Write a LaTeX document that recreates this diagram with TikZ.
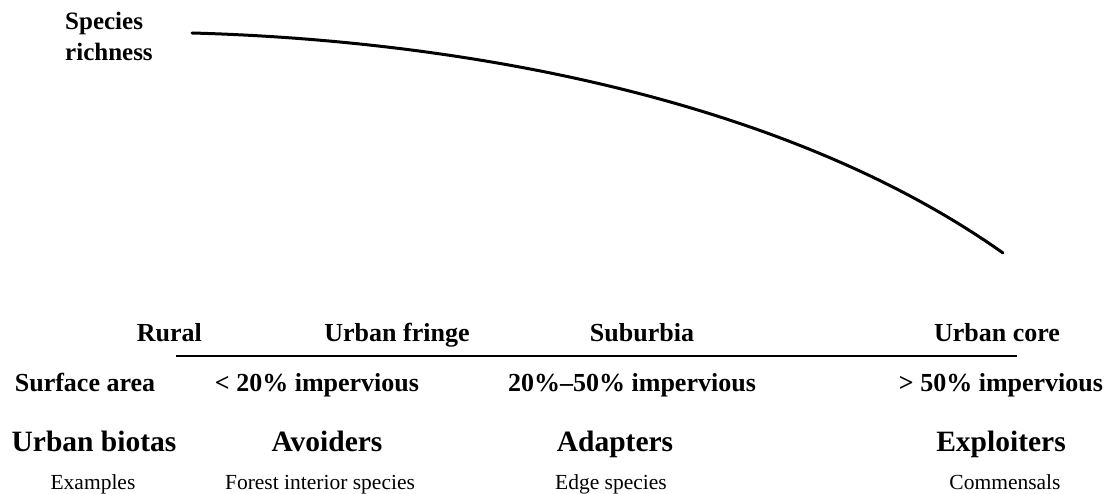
\documentclass[tikz,border=0pt]{standalone}
\usepackage{fontspec}
\setmainfont{Liberation Serif}
\begin{document}
\begin{tikzpicture}[x=1pt,y=-1pt,
  lbl/.style={inner sep=0pt,anchor=base,font=\fontsize{26}{30}\selectfont\bfseries},
  big/.style={inner sep=0pt,anchor=base,font=\fontsize{29.5}{34}\selectfont\bfseries},
  small/.style={inner sep=0pt,anchor=base,font=\fontsize{21.5}{25}\selectfont},
  axis/.style={draw=black,line width=1.8pt}]
\useasboundingbox (0,0) rectangle (1107,494);
% y axis label
\node[inner sep=0pt,anchor=base west,font=\fontsize{25}{31}\selectfont\bfseries] (sp) at (65,30) {Species};
\node[inner sep=0pt,anchor=base west,font=\fontsize{25}{31}\selectfont\bfseries] (rich) at (65,61) {richness};
% curve
\coordinate (c0) at (192,33);
\coordinate (c1) at (1003,253);
\draw[line width=3pt,line cap=round] (c0) .. controls (450,40) and (780,95) .. (c1);
% gradient row
\node[lbl,anchor=base east] (rural) at (202,341) {Rural};
\node[lbl] (fringe) at (397,341) {Urban fringe};
\node[lbl] (suburb) at (642,341) {Suburbia};
\node[lbl] (core) at (997,341) {Urban core};
\coordinate (l0) at (176,356);
\coordinate (l1) at (1017,356);
\draw[axis] (l0) -- (l1);
% surface
\node[lbl] (surf) at (85,391) {Surface area};
\node[lbl] (s1) at (317,391) {< 20\% impervious};
\node[lbl] (s2) at (632,391) {20\%–50\% impervious};
\node[lbl] (s3) at (1001,391) {> 50\% impervious};
% biotas
\node[big] (biota) at (94,451) {Urban biotas};
\node[big] (avoid) at (327,451) {Avoiders};
\node[big] (adapt) at (615,451) {Adapters};
\node[big] (exploit) at (1001,451) {Exploiters};
% examples
\node[small] (ex) at (93,489) {Examples};
\node[small] (ex1) at (320,489) {Forest interior species};
\node[small] (ex2) at (611,489) {Edge species};
\node[small] (ex3) at (1005,489) {Commensals};
\end{tikzpicture}
\end{document}
